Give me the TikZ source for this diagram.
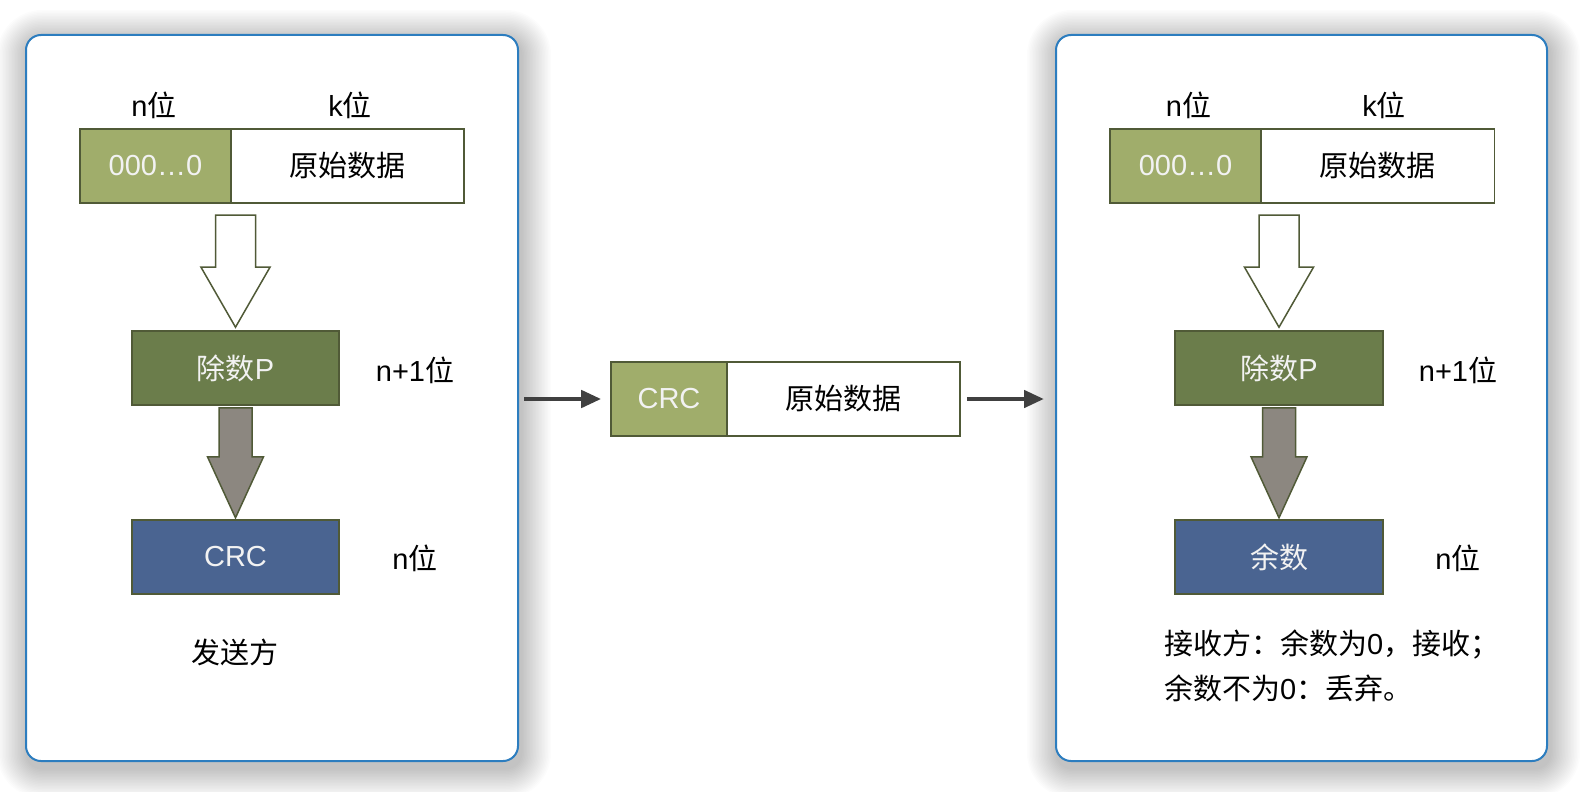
\documentclass[tikz,border=0pt]{standalone}
\usepackage{fontspec}
\setmainfont{Liberation Sans}
\newfontfamily\cjk{Noto Sans CJK SC}
\usetikzlibrary{arrows.meta,calc,backgrounds}
\newcommand\zh[1]{{\cjk #1}}
\definecolor{olivelite}{HTML}{A0AD6B}
\definecolor{olivedark}{HTML}{6B7D4B}
\definecolor{boxblue}{HTML}{4A6491}
\definecolor{edgeolive}{HTML}{505A37}
\definecolor{arrowgray}{HTML}{8C8780}
\definecolor{panelblue}{HTML}{2C7DBF}
\definecolor{flowgray}{HTML}{404040}
\newcommand\whitearrow[1]{%
  \draw[fatwhite] ($(#1)+(-20,-115)$) -- ($(#1)+(20,-115)$) -- ($(#1)+(20,-63)$) -- ($(#1)+(34.5,-63)$)
    -- ($(#1)+(0,-3)$) -- ($(#1)+(-34.5,-63)$) -- ($(#1)+(-20,-63)$) -- cycle;}
\newcommand\grayarrow[1]{%
  \draw[fatgray] ($(#1)+(-16.5,2)$) -- ($(#1)+(16.5,2)$) -- ($(#1)+(16.5,51)$) -- ($(#1)+(28,51)$)
    -- ($(#1)+(0,112)$) -- ($(#1)+(-28,51)$) -- ($(#1)+(-16.5,51)$) -- cycle;}
\newcommand\softshadow[1]{%
  \foreach \i in {1,...,20}{%
    \fill[black, opacity=0.011, rounded corners={15pt+1.5pt*\i}]
      ($(#1.north west)+(-1.5*\i+2,-1.5*\i+6)$) rectangle ($(#1.south east)+(1.5*\i+2,1.5*\i+6)$);}}
\begin{document}
\begin{tikzpicture}[x=1pt,y=-1pt,
  every node/.style={font=\fontsize{29}{35}\selectfont, inner sep=0pt},
  panel/.style={draw=panelblue, line width=2pt, fill=white, rounded corners=15pt},
  cell/.style={draw=edgeolive, line width=1.6pt, minimum height=74pt},
  zeros/.style={cell, fill=olivelite, text=white!95!black},
  datacell/.style={cell, fill=white, text=black},
  divbox/.style={cell, fill=olivedark, text=white!95!black, minimum width=207pt},
  resbox/.style={cell, fill=boxblue, text=white!95!black, minimum width=207pt},
  fatwhite/.style={draw=edgeolive, line width=1.5pt, fill=white, line join=miter},
  fatgray/.style={draw=edgeolive, line width=1.5pt, fill=arrowgray, line join=miter},
  flow/.style={draw=flowgray, line width=4.5pt, -{Triangle[length=20pt,width=17pt]}}
]
\useasboundingbox (0,0) rectangle (1580,792);

% panels
\node[panel, minimum width=492pt, minimum height=726pt] (lp) at (272,398) {};
\node[panel, minimum width=491pt, minimum height=726pt] (rp) at (1301.5,398) {};
\begin{scope}[on background layer]
  \fill[white] (0,0) rectangle (1580,792);
  \softshadow{lp}
  \softshadow{rp}
\end{scope}

% left (sender)
\node (ln) at (154,105) {n\zh{位}};
\node (lk) at (350,105) {k\zh{位}};
\node[zeros, minimum width=151pt] (lz) at (155.5,166) {000…0};
\node[datacell, minimum width=233pt] (ld) at (347.5,166) {\zh{原始数据}};
\node[divbox] (ldp) at (235.5,368) {\zh{除数}P};
\node[resbox] (lcrc) at (235.5,557) {CRC};
\node (ln1) at (415,370) {n+1\zh{位}};
\node (lnb) at (415,558) {n\zh{位}};
\node (lsend) at (234.5,652) {\zh{发送方}};
\whitearrow{ldp.north}
\grayarrow{ldp.south}

% middle
\node[zeros, minimum width=116pt] (mz) at (669,399) {CRC};
\node[datacell, minimum width=233pt] (md) at (843.5,399) {\zh{原始数据}};

% right (receiver)
\node (rn) at (1188.5,105) {n\zh{位}};
\node (rk) at (1384,105) {k\zh{位}};
\node[zeros, minimum width=151pt] (rz) at (1185.5,166) {000…0};
\node[datacell, minimum width=233.5pt] (rd) at (1377.75,166) {\zh{原始数据}};
\node[divbox, minimum width=208pt] (rdp) at (1279,368) {\zh{除数}P};
\node[resbox, minimum width=208pt] (rrem) at (1279,557) {\zh{余数}};
\node (rn1) at (1458,370) {n+1\zh{位}};
\node (rnb) at (1458,558) {n\zh{位}};
\node[align=left, anchor=west, font=\fontsize{29}{45}\selectfont] (rtxt) at (1164,666)
  {\zh{接收方：余数为}0\zh{，接收；}\\\zh{余数不为}0\zh{：丢弃。}};
\whitearrow{rdp.north}
\grayarrow{rdp.south}

% flow arrows
\draw[flow, shorten <=5pt, shorten >=9pt] (mz.west -| lp.east) -- (mz.west);
\draw[flow, shorten <=6pt, shorten >=11pt] (md.east) -- (md.east -| rp.west);
\end{tikzpicture}
\end{document}
